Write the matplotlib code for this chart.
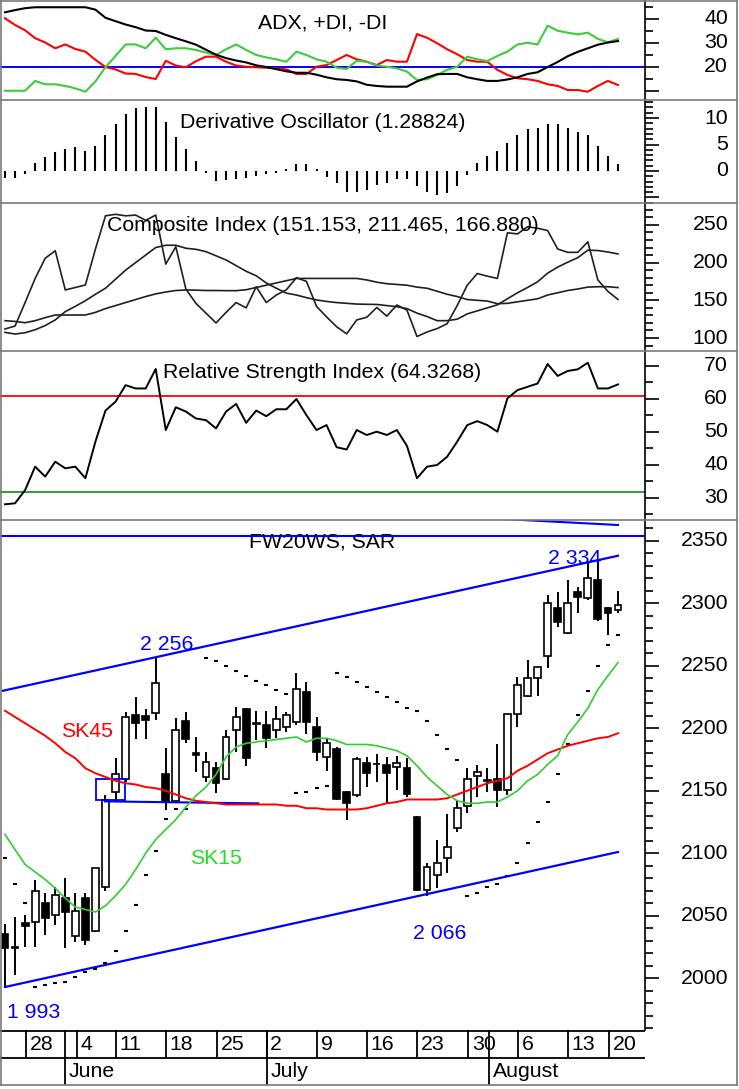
import numpy as np
import matplotlib
matplotlib.use("Agg")
import matplotlib.pyplot as plt
from matplotlib.lines import Line2D
from matplotlib.patches import Rectangle

plt.rcParams['font.family'] = ['Liberation Sans', 'DejaVu Sans']

W, H = 739, 1089
PR = 645          # right edge of the plotting area (px)
FS = 15.3

# ---------------- data ----------------
opens = [2035.4, 2025.0, 2044.0, 2044.7, 2060.0, 2050.6, 2063.9, 2033.8, 2064.5, 2038.0,
         2072.7, 2149.3, 2159.1, 2210.6, 2209.8, 2212.5, 2163.4, 2142.1, 2205.8, 2180.5,
         2160.7, 2167.9, 2159.1, 2198.6, 2215.4, 2204.0, 2202.6, 2198.6, 2200.7, 2205.3,
         2229.3, 2201.3, 2177.3, 2183.4, 2149.3, 2146.3, 2172.0, 2171.5, 2170.6, 2169.3,
         2167.9, 2128.7, 2070.6, 2082.6, 2096.0, 2119.9, 2138.1, 2162.1, 2158.6, 2159.1,
         2150.6, 2211.1, 2225.8, 2240.5, 2258.1, 2295.9, 2276.0, 2308.7, 2303.9, 2318.6,
         2296.5, 2294.6]
highs = [2043.4, 2049.3, 2050.6, 2078.6, 2068.0, 2073.3, 2080.0, 2068.0, 2068.0, 2088.0,
         2146.6, 2175.9, 2213.3, 2224.7, 2215.1, 2256.0, 2183.9, 2208.0, 2213.3, 2193.3,
         2181.3, 2173.0, 2198.6, 2217.3, 2216.0, 2214.0, 2214.0, 2218.0, 2213.3, 2244.5,
         2237.3, 2209.3, 2191.1, 2184.7, 2149.5, 2176.7, 2176.7, 2179.4, 2176.7, 2177.8,
         2175.9, 2130.1, 2092.5, 2110.6, 2131.4, 2142.0, 2167.9, 2170.6, 2167.9, 2187.4,
         2211.4, 2240.7, 2254.6, 2248.7, 2306.6, 2309.3, 2318.6, 2313.3, 2333.0, 2334.0,
         2297.3, 2310.1]
lows = [1993.0, 2002.6, 2025.3, 2025.3, 2034.6, 2042.6, 2023.9, 2029.3, 2026.6, 2036.7,
        2070.1, 2142.1, 2157.3, 2191.1, 2191.1, 2206.6, 2134.6, 2140.0, 2188.5, 2165.3,
        2157.3, 2147.9, 2158.5, 2181.3, 2169.8, 2190.6, 2183.9, 2191.9, 2197.3, 2202.6,
        2195.4, 2174.1, 2166.1, 2142.6, 2126.6, 2145.3, 2153.3, 2157.3, 2140.5, 2150.6,
        2145.3, 2070.1, 2066.0, 2071.9, 2083.9, 2117.3, 2132.5, 2145.3, 2149.3, 2137.3,
        2146.6, 2201.3, 2225.3, 2225.8, 2247.9, 2280.7, 2275.4, 2292.0, 2302.6, 2286.0,
        2274.6, 2292.0]
closes = [2023.9, 2024.0, 2041.5, 2070.1, 2048.5, 2066.6, 2053.3, 2054.0, 2030.6, 2087.9,
          2142.6, 2163.4, 2209.3, 2204.0, 2206.6, 2235.9, 2141.3, 2198.6, 2191.1, 2179.0,
          2172.7, 2155.9, 2192.7, 2209.3, 2175.9, 2203.5, 2191.9, 2207.4, 2210.6, 2231.4,
          2205.3, 2180.7, 2188.5, 2143.1, 2140.5, 2175.1, 2164.5, 2171.3, 2164.5, 2172.3,
          2147.4, 2070.6, 2089.3, 2092.5, 2104.7, 2135.9, 2159.1, 2165.3, 2158.2, 2150.6,
          2211.4, 2234.6, 2240.5, 2248.7, 2300.5, 2284.7, 2300.5, 2305.3, 2319.9, 2287.2,
          2291.9, 2298.6]
sar = [2096.3, 2075.4, 2059.9, 1993.3, 1994.6, 1996.0, 1997.3, 2001.3, 2004.7, 2007.1,
       2012.5, 2022.1, 2037.8, 2058.6, 2082.3, 2101.8, 2127.1, 2135.4, 2135.4, np.nan,
       2256.0, 2254.1, 2250.1, 2246.1, 2242.0, 2238.0, 2234.6, 2230.6, 2227.6, 2147.9,
       2149.3, 2152.6, 2154.1, 2244.5, 2241.3, 2237.3, 2233.3, 2229.0, 2225.0, 2220.7,
       2216.6, 2213.5, 2205.5, 2194.7, 2183.2, 2174.7, 2065.8, 2068.5, 2072.8, 2075.4,
       2082.1, 2092.5, 2108.0, 2125.3, 2140.9, 2163.5, 2187.5, 2210.7, 2230.1, 2250.1,
       2266.6, 2274.6]
sk15 = [2115, 2103, 2091, 2085, 2079, 2072, 2064, 2057, 2055, 2053,
        2058, 2066, 2075, 2087, 2100, 2111, 2119, 2127, 2137, 2146,
        2153, 2163, 2177, 2185, 2188, 2189, 2190, 2191, 2192, 2193,
        2189, 2192, 2192, 2190, 2187, 2187, 2187, 2186, 2184, 2182,
        2178, 2170, 2161, 2154, 2147, 2142, 2140, 2140, 2141, 2141,
        2145, 2150, 2158, 2163, 2171, 2178, 2195, 2205, 2216, 2231,
        2242, 2252.5]
sk45 = [2214, 2209, 2204, 2199, 2194, 2188, 2181, 2176, 2168, 2164,
        2161, 2158, 2156, 2155, 2153, 2152, 2150, 2147, 2144, 2142,
        2141, 2140, 2139, 2139, 2139, 2139, 2139, 2139, 2138, 2138,
        2136, 2136, 2135, 2135, 2135, 2135, 2136, 2138, 2140, 2141,
        2143, 2143, 2143, 2143, 2144, 2147, 2150, 2153, 2156, 2158,
        2160, 2166, 2170, 2175, 2180, 2183, 2186, 2188, 2190, 2192,
        2193, 2196]

adx = [42.8, 43.7, 44.5, 44.9, 44.9, 44.9, 44.9, 44.9, 44.9, 43.9,
       40.5, 39.1, 37.7, 36.6, 35.2, 35.0, 33.4, 32.0, 30.7, 29.3,
       27.2, 25.1, 23.7, 22.7, 21.9, 20.7, 20.0, 19.1, 18.2, 17.6,
       17.6, 16.8, 15.7, 14.9, 14.6, 14.0, 12.6, 12.1, 11.8, 11.8,
       11.8, 14.0, 15.6, 17.0, 17.1, 17.1, 15.7, 14.9, 14.2, 14.2,
       14.8, 15.7, 17.1, 17.8, 20.0, 22.1, 24.5, 26.3, 27.8, 29.3,
       30.2, 30.8]
minus_di = [40.3, 37.5, 35.3, 32.0, 30.2, 27.8, 29.4, 27.5, 26.4, 23.0,
            20.0, 19.0, 17.3, 17.1, 15.8, 15.0, 22.6, 20.6, 19.9, 22.4,
            24.3, 24.3, 22.2, 20.6, 20.1, 19.9, 19.7, 19.4, 19.0, 17.1,
            17.1, 20.1, 20.8, 22.9, 25.0, 23.2, 22.2, 20.8, 22.9, 22.2,
            22.2, 33.7, 32.2, 29.9, 27.4, 25.3, 22.9, 22.2, 22.2, 18.8,
            16.7, 15.3, 14.9, 14.2, 12.8, 12.1, 10.4, 10.4, 9.7, 12.1,
            14.2, 12.5]
plus_di = [10.1, 10.1, 10.1, 14.2, 12.8, 12.8, 12.1, 11.1, 9.7, 14.0,
           19.9, 24.6, 29.4, 29.4, 27.8, 32.2, 27.4, 27.8, 27.8, 27.1,
           26.0, 25.0, 27.4, 29.4, 27.1, 25.0, 24.0, 23.2, 22.2, 26.4,
           25.0, 23.2, 22.2, 19.7, 19.2, 22.6, 22.2, 20.6, 20.1, 19.4,
           18.1, 14.6, 14.9, 16.7, 18.8, 20.1, 24.3, 23.2, 22.5, 24.6,
           26.4, 29.4, 30.1, 29.4, 37.2, 35.1, 34.3, 33.6, 34.3, 31.7,
           30.3, 31.7]

deriv = [-1.4, -1.3, -0.6, 1.6, 2.6, 3.5, 4.2, 4.6, 3.8, 4.8,
         6.8, 8.8, 10.8, 11.8, 12.1, 12.1, 9.2, 6.5, 4.2, 1.9,
         -0.3, -1.8, -1.7, -1.5, -1.3, -0.9, -0.6, -0.3, 0.3, 1.3,
         1.3, 0.3, -1.1, -2.2, -3.9, -3.9, -3.6, -2.6, -2.2, -1.5,
         -1.5, -2.8, -3.9, -4.5, -4.1, -2.8, -0.8, 1.6, 2.9, 3.8,
         5.2, 6.8, 7.9, 8.2, 8.8, 8.8, 8.2, 7.4, 6.8, 4.8,
         2.9, 1.29]

ci = [112.0, 115.9, 147.0, 179.0, 205.7, 215.8, 163.7, 167.0, 170.3, 218.0,
      262.0, 264.0, 262.0, 263.0, 256.0, 263.0, 198.0, 221.0, 165.0, 146.0,
      133.0, 120.0, 134.0, 147.0, 140.0, 168.0, 147.0, 157.0, 164.0, 180.0,
      175.0, 142.0, 128.0, 115.0, 105.5, 124.0, 127.5, 140.5, 129.0, 143.8,
      137.0, 102.0, 108.0, 112.5, 119.0, 143.0, 170.0, 185.5, 182.0, 179.0,
      239.5, 238.0, 247.5, 245.5, 242.5, 218.0, 213.6, 213.6, 227.5, 177.0,
      161.8, 151.153]
ci_fast = [107.5, 105.3, 107.0, 111.0, 116.5, 124.0, 135.0, 142.0, 149.5, 158.0,
           166.0, 178.0, 190.0, 200.0, 210.0, 220.0, 223.0, 223.0, 219.0, 217.6,
           214.5, 209.0, 203.5, 196.0, 188.5, 182.5, 173.0, 166.0, 159.5, 157.0,
           153.5, 150.5, 148.5, 147.0, 146.0, 145.0, 144.7, 144.5, 143.0, 141.5,
           139.0, 133.0, 128.5, 123.0, 123.0, 125.0, 132.0, 136.0, 140.0, 144.0,
           152.0, 160.0, 167.0, 174.5, 186.0, 194.0, 200.5, 206.5, 216.5, 216.0,
           214.0, 211.465]
ci_slow = [123.0, 122.0, 120.3, 123.0, 127.0, 130.5, 130.5, 130.5, 130.5, 134.0,
           139.0, 143.0, 147.0, 151.0, 155.0, 158.5, 161.0, 163.0, 163.7, 163.5,
           163.0, 163.0, 162.8, 162.8, 164.0, 167.0, 170.0, 173.0, 176.0, 179.0,
           179.0, 179.0, 179.0, 179.0, 179.0, 179.0, 177.0, 174.0, 172.0, 171.0,
           170.0, 167.5, 166.0, 162.0, 158.0, 155.0, 151.0, 150.0, 149.0, 145.5,
           146.0, 148.0, 150.0, 152.0, 157.0, 160.0, 163.0, 165.0, 167.5, 168.0,
           168.0, 166.88]

rsi = [28.0, 28.3, 32.3, 39.4, 36.4, 40.9, 38.9, 39.4, 35.9, 47.0,
       56.4, 59.1, 64.1, 63.1, 63.1, 69.0, 50.5, 57.4, 56.1, 54.0,
       53.5, 51.0, 56.1, 58.4, 52.7, 56.4, 54.7, 56.8, 56.8, 59.9,
       55.0, 50.5, 52.0, 45.3, 44.6, 50.5, 49.0, 50.0, 49.0, 50.5,
       45.7, 35.9, 39.4, 39.9, 42.4, 47.0, 52.0, 53.2, 52.0, 50.0,
       60.1, 62.6, 63.6, 64.6, 70.5, 66.9, 68.4, 68.9, 70.9, 63.1,
       63.1, 64.33]
rsi_upper, rsi_lower = 60.9, 31.8

# trend lines / levels on the price panel (index, price)
upper_channel = ([-0.2, 61], [2230, 2338])
lower_channel = ([0, 61], [1993, 2101])
top_falling = ([40, 61], [2371.4, 2362.6])
resist_level = 2353.8
support_box = (9.05, 2142.3, 2.9, 17.0)  # x, y, w, h
support_line = ([9.95, 25.2], [2141.5, 2139.9])

day_ticks = [2.1, 7.15, 11.05, 16.05, 21.1, 26.05, 31.05, 36.05, 41.0, 46.1, 51.05, 56.05, 60.1]
day_labels = ['28', '4', '11', '18', '25', '2', '9', '16', '23', '30', '6', '13', '20']
month_ticks = [5.97, 26.05, 48.15]
month_labels = ['June', 'July', 'August']

x = np.arange(len(closes))

# ---------------- figure ----------------
fig = plt.figure(figsize=(W / 100, H / 100), dpi=100)
XL = (-0.4975, 63.69)


def panel(top, bottom, ylim, major, minor, labels):
    ax = fig.add_axes([0, 1 - bottom / H, PR / W, (bottom - top) / H])
    ax.set_xlim(*XL)
    ax.set_ylim(*ylim)
    for s in ('left', 'top', 'bottom'):
        ax.spines[s].set_visible(False)
    ax.spines['right'].set_linewidth(1.2)
    ax.yaxis.tick_right()
    ax.set_yticks(major)
    ax.set_yticks(minor, minor=True)
    ax.tick_params(axis='y', which='major', length=10.3, width=1.2,
                   labelright=False, labelleft=False)
    ax.tick_params(axis='y', which='minor', length=5.5, width=1.2)
    ax.tick_params(axis='x', bottom=False, labelbottom=False)
    for v, s in labels:
        ax.text(728 / PR, v, s, transform=ax.get_yaxis_transform(), ha='right',
                va='center', fontsize=FS, clip_on=False)
    return ax


def title(ax, top, bottom, s):
    ax.text(0.5, 1 - 27.5 / (bottom - top), s, transform=ax.transAxes,
            ha='center', va='baseline', fontsize=FS)


# ADX
ax1 = panel(1, 100, (6.25, 47.5), [10, 20, 30, 40], [15, 25, 35, 45],
            [(20, '20'), (30, '30'), (40, '40')])
ax1.axhline(20, color='#0000ff', lw=1.4)
ax1.plot(x, minus_di, color='#ff0000', lw=1.5)
ax1.plot(x, plus_di, color='#3ccc3c', lw=1.5)
ax1.plot(x, adx, color='black', lw=1.5)
title(ax1, 1, 100, 'ADX, +DI, -DI')

# Derivative oscillator
ax2 = panel(100, 203, (-6.04, 13.4), [-5, 0, 5, 10],
            [v for v in range(-6, 14) if v % 5],
            [(0, '0'), (5, '5'), (10, '10')])
ax2.vlines(x, 0, deriv, color='black', lw=1.5)
title(ax2, 100, 203, 'Derivative Oscillator (1.28824)')

# Composite index
ax3 = panel(203, 351, (82.8, 279.0), [100, 150, 200, 250],
            [v for v in range(90, 280, 10) if v % 50],
            [(100, '100'), (150, '150'), (200, '200'), (250, '250')])
ax3.plot(x, ci_slow, color='#202020', lw=1.2)
ax3.plot(x, ci_fast, color='#202020', lw=1.2)
ax3.plot(x, ci, color='#202020', lw=1.2)
title(ax3, 203, 351, 'Composite Index (151.153, 211.465, 166.880)')

# RSI
ax4 = panel(351, 520, (23.24, 74.45), [30, 40, 50, 60, 70], [25, 35, 45, 55, 65],
            [(v, str(v)) for v in (30, 40, 50, 60, 70)])
ax4.axhline(rsi_upper, color='#ff0000', lw=1.3)
ax4.axhline(rsi_lower, color='#1f9a1f', lw=1.3)
ax4.plot(x, rsi, color='black', lw=1.4)
title(ax4, 351, 520, 'Relative Strength Index (64.3268)')

# Price
ax5 = panel(520, 1030, (1958.6, 2366.6), list(range(2000, 2351, 50)),
            [v for v in range(1960, 2370, 10) if v % 50],
            [(v, str(v)) for v in range(2000, 2351, 50)])
ax5.axhline(resist_level, color='#0000ff', lw=1.5, zorder=4)
ax5.plot(*top_falling, color='#0000ff', lw=1.5, zorder=4)
ax5.plot(*upper_channel, color='#0000ff', lw=1.6, zorder=4)
ax5.plot(*lower_channel, color='#0000ff', lw=1.6, zorder=4)
ax5.add_patch(Rectangle(support_box[:2], support_box[2], support_box[3], fill=False,
                        edgecolor='#0000ff', lw=1.3, zorder=4))
ax5.plot(*support_line, color='#0000ff', lw=1.5, zorder=4)

o, c = np.array(opens), np.array(closes)
ax5.vlines(x, lows, highs, color='black', lw=1.4, zorder=2)
body_lo = np.minimum(o, c)
body_h = np.maximum(np.abs(c - o), 0.4)
colors = np.where(c >= o, 'white', 'black')
ax5.bar(x, body_h, bottom=body_lo, width=0.68, color=colors, edgecolor='black',
        linewidth=1.2, zorder=3)
ax5.plot(x, sar, linestyle='none', marker='_', markersize=3, mew=1.5,
         color='black', zorder=3)
ax5.plot(x, sk45, color='#ff0000', lw=1.4, zorder=4)
ax5.plot(x, sk15, color='#33cc33', lw=1.2, zorder=4)
title(ax5, 520, 1030, 'FW20WS, SAR')


def ptext(px, py, s, color, ha='left'):
    ax5.text(px / PR, 1 - (py - 520) / 510, s, transform=ax5.transAxes, color=color,
             ha=ha, va='baseline', fontsize=FS, zorder=6)


ptext(166.5, 650, '2 256', '#0000ff', ha='center')
ptext(61, 737, 'SK45', '#ff0000')
ptext(190, 864, 'SK15', '#22dd22')
ptext(7, 1018, '1 993', '#0000ff')
ptext(413, 939, '2 066', '#0000ff')
ptext(548, 564, '2 334', '#0000ff')

# date axis
axd = fig.add_axes([0, 1 - 1085 / H, PR / W, 55 / H])
axd.set_xlim(*XL)
axd.set_ylim(0, 55)
axd.axis('off')
axd.axhline(54.5, color='black', lw=1.3)
axd.axhline(27, color='black', lw=1.3)
axd.vlines(day_ticks, 27, 55, color='black', lw=1.3)
axd.vlines(month_ticks, 0, 55, color='black', lw=1.3)
for t, s in zip(day_ticks, day_labels):
    axd.text(t + 0.35, 41, s, ha='left', va='center', fontsize=FS)
for t, s in zip(month_ticks, month_labels):
    axd.text(t + 0.4, 13.5, s, ha='left', va='center', fontsize=FS)

# frame and panel separators
grey = '#7a7a7a'


def fline(x0, y0, x1, y1, color=grey, lw=1.2):
    fig.add_artist(Line2D([x0 / W, x1 / W], [1 - y0 / H, 1 - y1 / H],
                          transform=fig.transFigure, color=color, lw=lw))


for yy in (100, 203, 351, 520):
    fline(0, yy, 737, yy)
fline(0, 1, 737, 1)
fline(1, 0, 1, 1085)
fline(737, 0, 737, 1085)
fline(0, 1085, 737, 1085)

fig.savefig('out.png', dpi=100)
